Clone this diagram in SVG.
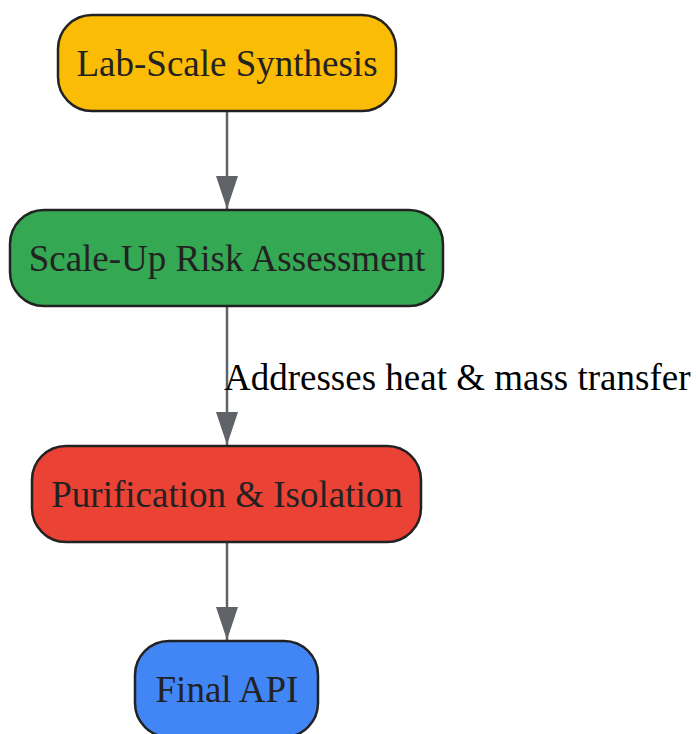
<svg xmlns="http://www.w3.org/2000/svg" width="696" height="734" viewBox="0 0 696 734">
<style>
.node rect{stroke:#222;stroke-width:2.5}
.node text{font-family:"Liberation Serif",serif;font-size:37px;fill:#222;text-anchor:middle}
.edge{stroke:#5f6368;stroke-width:2.5;fill:none}
.lbl{font-family:"Liberation Serif",serif;font-size:37px;fill:#000}
</style>
<defs>
<marker id="arr" viewBox="0 0 33 22" refX="33" refY="11" markerWidth="33" markerHeight="22" markerUnits="userSpaceOnUse" orient="auto">
<path d="M0,0 L33,11 L0,22 z" fill="#5f6368"/>
</marker>
</defs>
<g id="edges">
<line class="edge" x1="227" y1="111" x2="227" y2="209" marker-end="url(#arr)"/>
<line class="edge" x1="227" y1="306" x2="227" y2="445" marker-end="url(#arr)"/>
<line class="edge" x1="227" y1="542" x2="227" y2="640" marker-end="url(#arr)"/>
<text class="lbl" x="224" y="390">Addresses heat &amp; mass transfer</text>
</g>
<g id="n1" class="node"><rect x="58" y="15" width="338" height="96" rx="34" fill="#FBBC05"/><text x="227" y="76">Lab-Scale Synthesis</text></g>
<g id="n2" class="node"><rect x="10" y="210" width="433" height="96" rx="34" fill="#34A853"/><text x="227" y="271">Scale-Up Risk Assessment</text></g>
<g id="n3" class="node"><rect x="32" y="446" width="389" height="96" rx="34" fill="#EA4335"/><text x="227" y="507">Purification &amp; Isolation</text></g>
<g id="n4" class="node"><rect x="135" y="641" width="183" height="96" rx="34" fill="#4285F4"/><text x="227" y="702">Final API</text></g>
</svg>
